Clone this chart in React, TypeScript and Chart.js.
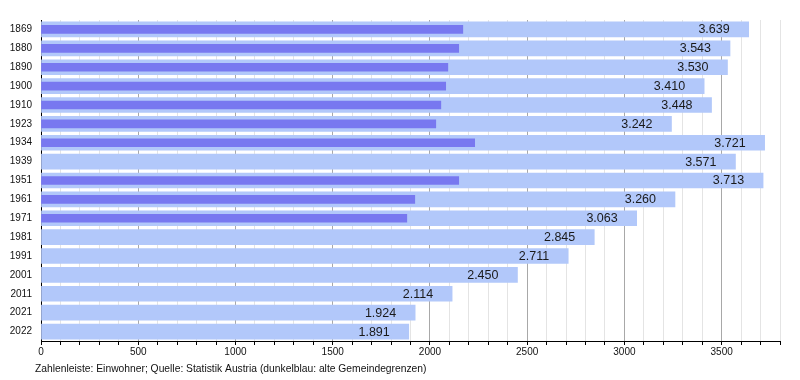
import React, { useEffect, useRef } from "react";
import { Chart, registerables } from "chart.js";

Chart.register(...registerables);

const years = ["1869", "1880", "1890", "1900", "1910", "1923", "1934", "1939", "1951", "1961", "1971", "1981", "1991", "2001", "2011", "2021", "2022"];
const population = [3639, 3543, 3530, 3410, 3448, 3242, 3721, 3571, 3713, 3260, 3063, 2845, 2711, 2450, 2114, 1924, 1891];
const oldBorders = [2169, 2148, 2092, 2081, 2056, 2030, 2230, null, 2148, 1922, 1881, null, null, null, null, null, null];
const xMax = 3800;
const xStep = 100;
const xLabelStep = 500;
const footerText = "Zahlenleiste: Einwohner; Quelle: Statistik Austria (dunkelblau: alte Gemeindegrenzen)";

const FONT = "'Liberation Sans', Arial, Helvetica, sans-serif";

function fmt(n: number): string {
  const th = Math.floor(n / 1000);
  const rest = n % 1000;
  return th > 0 ? `${th}.${String(rest).padStart(3, "0")}` : String(rest);
}

const valueLabels = {
  id: "valueLabels",
  afterDatasetsDraw(chart: any) {
    const ctx = chart.ctx;
    const meta = chart.getDatasetMeta(1);
    ctx.save();
    ctx.font = `12.5px ${FONT}`;
    ctx.fillStyle = "#1a1a1a";
    ctx.textAlign = "right";
    ctx.textBaseline = "middle";
    meta.data.forEach((el: any, i: number) => {
      const v = population[i];
      if (v == null) return;
      ctx.fillText(fmt(v), el.x - 19, el.y + 0.5);
    });
    ctx.restore();
  },
  afterDraw(chart: any) {
    const ctx = chart.ctx;
    ctx.save();
    ctx.font = `10.3px ${FONT}`;
    ctx.fillStyle = "#111";
    ctx.textAlign = "left";
    ctx.textBaseline = "middle";
    ctx.fillText(footerText, 35, 369);
    ctx.restore();
  },
};

export default function App() {
  const ref = useRef<HTMLCanvasElement | null>(null);

  useEffect(() => {
    if (!ref.current) return;
    const chart = new Chart(ref.current, {
      type: "bar",
      data: {
        labels: years,
        datasets: [
          {
            label: "alte Gemeindegrenzen",
            data: oldBorders as any,
            backgroundColor: "#7878f0",
            barThickness: 8,
            grouped: false,
            order: 0,
          } as any,
          {
            label: "Einwohner",
            data: population,
            backgroundColor: "#b2c8fa",
            barThickness: 15,
            grouped: false,
            order: 1,
          } as any,
        ],
      },
      plugins: [valueLabels],
      options: {
        indexAxis: "y",
        responsive: false,
        animation: false,
        devicePixelRatio: 1,
        layout: { padding: { top: 20, right: 20, bottom: 0, left: 0 } },
        plugins: {
          legend: { display: false },
          tooltip: { enabled: false },
        },
        scales: {
          x: {
            type: "linear",
            min: 0,
            max: xMax,
            afterFit(scale: any) {
              scale.height = 39;
            },
            border: { display: true, color: "#000", width: 1 },
            grid: {
              display: true,
              drawTicks: true,
              tickLength: 4,
              tickColor: "#000",
              lineWidth: 1,
              color: (c: any) =>
                c.tick && c.tick.value % xLabelStep === 0 ? "#a8a8a8" : "#e4e4e4",
            },
            ticks: {
              stepSize: xStep,
              autoSkip: false,
              maxRotation: 0,
              padding: 1,
              color: "#111",
              font: { size: 10, family: FONT },
              callback: (v: any) => (Number(v) % xLabelStep === 0 ? String(v) : ""),
            },
          },
          y: {
            type: "category",
            afterFit(scale: any) {
              scale.width = 41;
            },
            border: { display: true, color: "#000", width: 1 },
            grid: { display: false, drawTicks: false },
            ticks: {
              padding: 9,
              color: "#111",
              font: { size: 10, family: FONT },
            },
          },
        },
      } as any,
    });
    return () => chart.destroy();
  }, []);

  return (
    <div style={{ position: "fixed", left: 0, top: 0, width: 800, height: 380, background: "#fff" }}>
      <canvas ref={ref} width={800} height={380} style={{ display: "block", width: 800, height: 380 }} />
    </div>
  );
}
